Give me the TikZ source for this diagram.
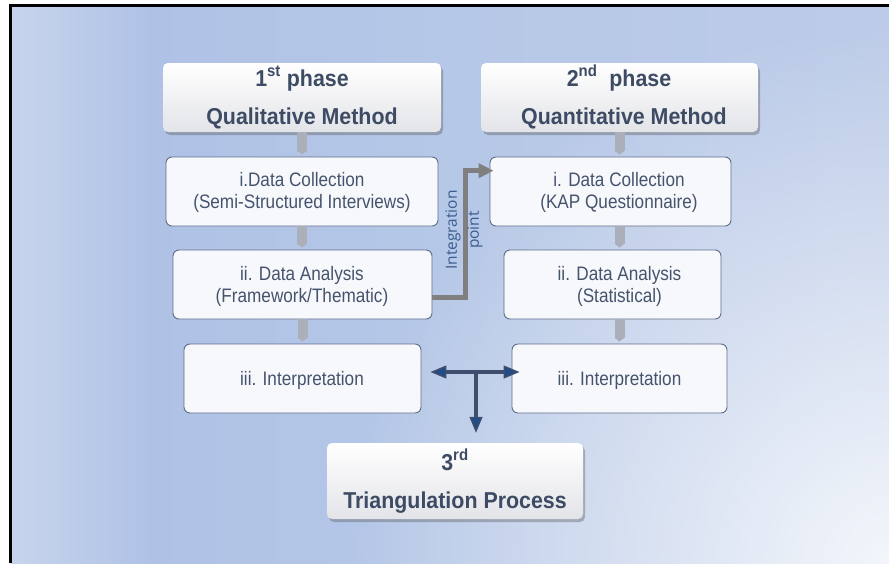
\documentclass[tikz,border=0pt]{standalone}
\usepackage{fontspec}
\setmainfont{Liberation Sans}
\newfontfamily\hdrfont{Liberation Sans}[FakeStretch=0.93]
\newfontfamily\bodyfont{Liberation Sans}[FakeStretch=0.88]
\newfontfamily\intfont{Open Sans}
\usetikzlibrary{arrows.meta,shadows,calc,fadings}
\definecolor{bgA}{HTML}{C7D4EC}
\definecolor{bgB}{HTML}{AFC2E6}
\definecolor{bgC}{HTML}{B6C8E7}
\definecolor{bgD}{HTML}{BCCBE8}
\definecolor{bgwhite}{HTML}{F3F6FB}
\definecolor{txtdark}{HTML}{3D4B64}
\definecolor{txtbody}{HTML}{46536C}
\definecolor{boxline}{HTML}{5E6D89}
\definecolor{boxfill}{HTML}{F6F8FC}
\definecolor{hdrbot}{HTML}{E3E4E8}
\definecolor{conngray}{HTML}{AAAFB9}
\definecolor{intgray}{HTML}{7F7F7F}
\definecolor{inttext}{HTML}{3A5C8E}
\definecolor{bluearrline}{HTML}{3E4F6E}
\definecolor{tipblue}{HTML}{214C86}
\pgfdeclarehorizontalshading{bgshade}{100bp}{color(0bp)=(bgA); color(25bp)=(bgA); color(33bp)=(bgB); color(50bp)=(bgC); color(75bp)=(bgD); color(100bp)=(bgD)}
\tikzfading[name=cornerfade, inner color=transparent!0, outer color=transparent!100]
\tikzset{bluetip/.tip={Triangle[length=16pt,width=13pt,line width=1.4pt,fill=tipblue]}}
\begin{document}
\begin{tikzpicture}[x=1pt,y=-1pt,
  hdrbox/.style={rounded corners=5pt, top color=white, bottom color=hdrbot, draw=none, inner sep=0pt,
    drop shadow={shadow xshift=2pt, shadow yshift=-3pt, opacity=0.35, fill=black!70}},
  stagebox/.style={rounded corners=6pt, draw=boxline, line width=0.9pt, fill=boxfill, inner sep=0pt},
  htext/.style={font=\hdrfont\bfseries\fontsize{23}{27}\selectfont, text=txtdark, inner sep=0pt, anchor=base},
  btext/.style={font=\bodyfont\fontsize{19.5}{22}\selectfont, text=txtbody, inner sep=0pt, anchor=base},
  graycon/.style={draw=conngray, line width=10pt, -{Triangle[length=4pt,width=10pt]}, shorten >=2pt},
  intarrow/.style={draw=intgray, line width=5pt, -{Triangle[length=15pt,width=14pt]}},
  bluearr/.style={draw=bluearrline, line width=4pt}
]
\useasboundingbox (0,0) rectangle (889,563);
\fill[white] (0,0) rectangle (889,563);
\begin{scope}
  \clip (10.5,5.5) rectangle (889,563);
  \shade[shading=bgshade] (10.5,5.5) rectangle (889,563);
  \fill[bgwhite, path fading=cornerfade, fit fading=true] (889,563) circle (540pt);
\end{scope}
\draw[line width=2.2pt, black] (889,5.5) -- (10.5,5.5) -- (10.5,563);

% header boxes
\node[hdrbox, minimum width=278pt, minimum height=69pt] (p1) at (302,97.5) {};
\node[hdrbox, minimum width=277pt, minimum height=69pt] (p2) at (619.5,97.5) {};
\node[hdrbox, minimum width=256pt, minimum height=76pt] (p3) at (455,481) {};

% stage boxes
\node[stagebox, minimum width=272pt, minimum height=69pt] (l1) at (302,191.5) {};
\node[stagebox, minimum width=259pt, minimum height=69pt] (l2) at (302.5,284.5) {};
\node[stagebox, minimum width=237pt, minimum height=69pt] (l3) at (302.5,378.5) {};
\node[stagebox, minimum width=241pt, minimum height=69pt] (r1) at (610.5,191.5) {};
\node[stagebox, minimum width=217pt, minimum height=69pt] (r2) at (612.5,284.5) {};
\node[stagebox, minimum width=215pt, minimum height=69pt] (r3) at (619.5,378.5) {};

\coordinate (rc) at (619.5,0);

% gray connectors
\draw[graycon] (p1.south) -- (l1.north);
\draw[graycon] (l1.south) -- (l1.south |- l2.north);
\draw[graycon] (l2.south) -- (l2.south |- l3.north);
\draw[graycon] (p2.south) -- (p2.south |- r1.north);
\draw[graycon] (r1.south -| rc) -- (r2.north -| rc);
\draw[graycon] (r2.south -| rc) -- (r3.north -| rc);

% header texts
\node[htext] (p1a) at (302,86) {1\textsuperscript{st} phase};
\node[htext] (p1b) at (302,124) {Qualitative Method};
\node[htext] (p2a) at (619,86) {2\textsuperscript{nd}\ \ phase};
\node[htext] (p2b) at (624,124) {Quantitative Method};
\node[htext] (p3a) at (455,470) {3\textsuperscript{rd}};
\node[htext] (p3b) at (455,508) {Triangulation Process};

% stage texts
\node[btext] (l1a) at (302,186.5) {i.Data Collection};
\node[btext] (l1b) at (302,208.5) {(Semi-Structured Interviews)};
\node[btext] (l2a) at (302,280) {ii. Data Analysis};
\node[btext] (l2b) at (302,302) {(Framework/Thematic)};
\node[btext] (l3a) at (302,385.5) {iii. Interpretation};
\node[btext] (r1a) at (619,186.5) {i. Data Collection};
\node[btext] (r1b) at (619,208.5) {(KAP Questionnaire)};
\node[btext] (r2a) at (619.5,280) {ii. Data Analysis};
\node[btext] (r2b) at (619.5,302) {(Statistical)};
\node[btext] (r3a) at (619.5,385.5) {iii. Interpretation};

% integration point
\coordinate (ia) at (465,170.7);
\draw[intarrow] ([yshift=-12.5pt]l2.east) -| (ia) -- ([xshift=4pt,yshift=20.8pt]r1.west);
\node[rotate=90, align=center, font=\intfont\fontsize{15.5}{22}\selectfont, text=inttext, inner sep=0pt] (intlab) at (464,230) {Integration\\point};

% blue T connector
\coordinate (tj) at (476,372);
\path ([yshift=10pt]p3.north) coordinate (p3top);
\draw[bluearr, bluetip-bluetip] ([xshift=9pt,yshift=6.5pt]l3.east) -- ([xshift=8pt,yshift=6.5pt]r3.west);
\draw[bluearr, -bluetip] (tj) -- (tj |- p3top);
\end{tikzpicture}
\end{document}
